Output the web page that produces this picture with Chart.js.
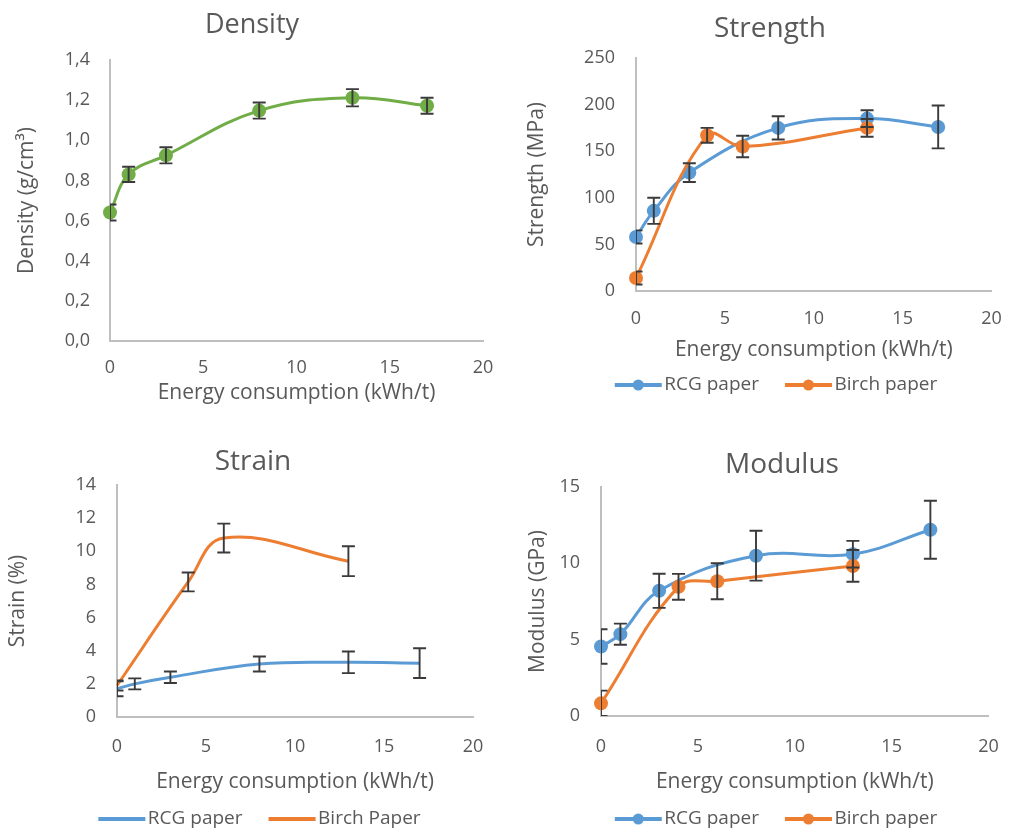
<!DOCTYPE html>
<html>
<head>
<meta charset="utf-8">
<title>Paper properties vs energy consumption</title>
<script src="https://cdn.jsdelivr.net/npm/chart.js@4.4.1/dist/chart.umd.min.js"></script>
<style>
  html, body { margin: 0; padding: 0; background: #fff; }
  canvas { position: absolute; }
</style>
</head>
<body>
<canvas id="density" width="510" height="420" style="left:0;top:0"></canvas>
<canvas id="strength" width="509" height="420" style="left:510px;top:0"></canvas>
<canvas id="strain" width="510" height="413" style="left:0;top:420px"></canvas>
<canvas id="modulus" width="509" height="413" style="left:510px;top:420px"></canvas>
<script>
// energy consumption (kWh/t) of each measured sample
const energyRcg = [0, 1, 3, 8, 13, 17];
const energyBirch = [0, 4, 6, 13];
const energyTicks = [0, 20, 5]; // min, max, step

// density (g/cm3), RCG paper only
const densityRcg = [0.64, 0.83, 0.925, 1.148, 1.212, 1.172];
const densityRcgErr = [0.04, 0.038, 0.04, 0.04, 0.043, 0.04];
const densityTicks = [0, 1.4, 0.2];

// strength (MPa)
const strengthRcg = [58, 86, 127, 175, 185, 176];
const strengthRcgErr = [7, 14, 10, 12.5, 9, 23];
const strengthBirch = [14, 167, 155, 175];
const strengthBirchErr = [7, 8, 11.5, 9.5];
const strengthTicks = [0, 250, 50];

// strain (%)
const strainRcg = [1.7, 2.0, 2.4, 3.2, 3.3, 3.25];
const strainRcgErr = [0.45, 0.33, 0.35, 0.45, 0.65, 0.9];
const strainBirch = [1.9, 8.15, 10.8, 9.4];
const strainBirchErr = [0.3, 0.57, 0.87, 0.9];
const strainTicks = [0, 14, 2];

// modulus (GPa)
const modulusRcg = [4.55, 5.36, 8.2, 10.5, 10.6, 12.2];
const modulusRcgErr = [1.13, 0.69, 1.12, 1.63, 0.87, 1.9];
const modulusBirch = [0.83, 8.46, 8.83, 9.83];
const modulusBirchErr = [0.83, 0.85, 1.18, 1.04];
const modulusTicks = [0, 15, 5];

const BLUE = '#5b9bd5', ORANGE = '#ed7d31', GREEN = '#70ad47';
const TEXT = '#595959', AXIS = '#bfbfbf', BAR = '#3a3a3a';

Chart.defaults.font.family = '"Open Sans", sans-serif';
Chart.defaults.color = TEXT;

// error bars, clipped to the plot area like Excel does
const errorBars = {
	id: 'errorBars',
	afterDatasetsDraw(chart) {
		const { ctx, chartArea: a, scales: { x, y } } = chart;
		ctx.save();
		ctx.beginPath();
		ctx.rect(a.left, a.top, a.right - a.left, a.bottom - a.top);
		ctx.clip();
		ctx.strokeStyle = BAR;
		ctx.lineWidth = 1.9;
		chart.data.datasets.forEach((ds) => {
			if (!ds.errors) return;
			ds.data.forEach((p, i) => {
				const px = x.getPixelForValue(p.x);
				const hi = y.getPixelForValue(p.y + ds.errors[i]);
				const lo = y.getPixelForValue(p.y - ds.errors[i]);
				ctx.beginPath();
				ctx.moveTo(px, hi); ctx.lineTo(px, lo);
				ctx.moveTo(px - 6.5, hi); ctx.lineTo(px + 6.5, hi);
				ctx.moveTo(px - 6.5, lo); ctx.lineTo(px + 6.5, lo);
				ctx.stroke();
			});
		});
		ctx.restore();
	},
};

// legend symbol: a short line, with a dot when the series has markers
const legendSymbols = {
	id: 'legendSymbols',
	afterDraw(chart) {
		const legend = chart.legend;
		if (!legend || !legend.options.display) return;
		const ctx = chart.ctx;
		legend.legendItems.forEach((item, i) => {
			const ds = chart.data.datasets[item.datasetIndex];
			const box = legend.legendHitBoxes[i];
			const cy = box.top + box.height / 2;
			ctx.save();
			ctx.strokeStyle = ds.borderColor;
			ctx.lineWidth = 4;
			ctx.beginPath();
			ctx.moveTo(box.left, cy);
			ctx.lineTo(box.left + 47, cy);
			ctx.stroke();
			if (ds.pointRadius) {
				ctx.fillStyle = ds.borderColor;
				ctx.beginPath();
				ctx.arc(box.left + 23.5, cy, 5.5, 0, Math.PI * 2);
				ctx.fill();
			}
			ctx.restore();
		});
	},
};

// puts title, legend and x axis title where the original has them
const placement = {
	id: 'placement',
	afterLayout(chart, args, opts) {
		const t = chart.titleBlock;
		if (t && opts.titleX != null) {
			const dx = opts.titleX - (t.left + t.right) / 2;
			t.left += dx; t.right += dx;
		}
		const l = chart.legend;
		if (l && l.options.display && opts.legendX != null) {
			const dx = opts.legendX - (l.left + l.right) / 2;
			const size = l.options.labels.font.size;
			const dy = opts.legendY - (l.top + l.options.labels.padding + size / 2);
			l.left += dx; l.right += dx; l.top += dy; l.bottom += dy;
		}
		const xs = chart.scales.x;
		xs.bottom = opts.xTitleY + xs.options.title.font.size * 0.6;
	},
};

function points(xs, ys) {
	return xs.map((x, i) => ({ x: x, y: ys[i] }));
}

function series(label, xs, ys, errs, color, marker, order) {
	return {
		label: label,
		data: points(xs, ys),
		errors: errs,
		borderColor: color,
		backgroundColor: color,
		borderWidth: 3,
		tension: 0.4,
		pointRadius: marker ? 7 : 0,
		pointHoverRadius: marker ? 7 : 0,
		pointBorderWidth: 0,
		clip: false,
		order: order,
	};
}

function panel(id, box, title, yTitle, yTicks, yFormat, datasets) {
	const canvas = document.getElementById(id);
	const hasLegend = box.legendY != null;
	return new Chart(canvas, {
		type: 'line',
		data: { datasets: datasets },
		options: {
			responsive: false,
			animation: false,
			devicePixelRatio: 1,
			events: [],
			layout: { padding: { left: 0, top: 0, bottom: 0, right: canvas.width - box.right } },
			plugins: {
				title: {
					display: true,
					text: title,
					color: TEXT,
					font: { size: box.titleSize, weight: 'normal' },
					padding: {
						top: box.titleY - box.titleSize * 0.6,
						bottom: box.top - box.titleY - box.titleSize * 0.6,
					},
				},
				legend: {
					display: hasLegend,
					position: 'bottom',
					labels: {
						font: { size: 19 },
						color: TEXT,
						boxWidth: 40,
						boxHeight: 3,
						padding: 26,
						sort: (a, b) => a.datasetIndex - b.datasetIndex,
						generateLabels(chart) {
							return Chart.defaults.plugins.legend.labels.generateLabels(chart).map((l) => {
								l.fillStyle = 'rgba(0,0,0,0)';
								l.lineWidth = 0;
								return l;
							});
						},
					},
				},
				tooltip: { enabled: false },
				placement: { titleX: box.titleX, legendX: box.legendX, legendY: box.legendY, xTitleY: box.xTitleY },
			},
			scales: {
				x: {
					type: 'linear',
					min: energyTicks[0],
					max: energyTicks[1],
					grid: { display: false, drawTicks: false },
					border: { display: true, color: AXIS, width: 2 },
					ticks: { stepSize: energyTicks[2], font: { size: 18 }, color: TEXT, padding: box.xTickY - box.bottom - 10.8 },
					title: { display: true, text: 'Energy consumption (kWh/t)', font: { size: 21 }, color: TEXT, padding: 0 },
					afterFit(s) { s.height = s.chart.height - s.chart.legend.height - box.bottom; },
				},
				y: {
					min: yTicks[0],
					max: yTicks[1],
					grid: { display: false, drawTicks: false },
					border: { display: true, color: AXIS, width: 2 },
					ticks: { stepSize: yTicks[2], font: { size: 18 }, color: TEXT, padding: box.left - box.yTickRight, callback: yFormat },
					title: { display: true, text: yTitle, font: { size: 21 }, color: TEXT, padding: { top: box.yTitleX - 12.6, bottom: 0 } },
					afterFit(s) { s.width = box.left; },
				},
			},
		},
		plugins: [errorBars, legendSymbols, placement],
	});
}

const plain = (v) => String(v);
const comma = (v) => v.toFixed(1).replace('.', ',');

panel('density',
	{ left: 110, top: 60, right: 483, bottom: 341, titleSize: 27, titleX: 252, titleY: 25.5, yTitleX: 27, yTickRight: 90, xTickY: 368, xTitleY: 393 },
	'Density', 'Density (g/cm³)', densityTicks, comma,
	[series('RCG paper', energyRcg, densityRcg, densityRcgErr, GREEN, true, 0)]);

panel('strength',
	{ left: 126, top: 58, right: 493, bottom: 291, titleSize: 28, titleX: 260, titleY: 29, yTitleX: 27, yTickRight: 105, xTickY: 319, xTitleY: 350, legendX: 266, legendY: 385 },
	'Strength', 'Strength (MPa)', strengthTicks, plain,
	[series('RCG paper', energyRcg, strengthRcg, strengthRcgErr, BLUE, true, 1),
	 series('Birch paper', energyBirch, strengthBirch, strengthBirchErr, ORANGE, true, 0)]);

panel('strain',
	{ left: 117, top: 65, right: 473, bottom: 297, titleSize: 28, titleX: 253, titleY: 42, yTitleX: 18, yTickRight: 96, xTickY: 327, xTitleY: 362, legendX: 259.5, legendY: 399 },
	'Strain', 'Strain (%)', strainTicks, plain,
	[series('RCG paper', energyRcg, strainRcg, strainRcgErr, BLUE, false, 1),
	 series('Birch Paper', energyBirch, strainBirch, strainBirchErr, ORANGE, false, 0)]);

panel('modulus',
	{ left: 91, top: 67, right: 493, bottom: 296, titleSize: 28, titleX: 272, titleY: 45, yTitleX: 28, yTickRight: 70, xTickY: 327, xTitleY: 362, legendX: 266, legendY: 399 },
	'Modulus', 'Modulus (GPa)', modulusTicks, plain,
	[series('RCG paper', energyRcg, modulusRcg, modulusRcgErr, BLUE, true, 1),
	 series('Birch paper', energyBirch, modulusBirch, modulusBirchErr, ORANGE, true, 0)]);
</script>
</body>
</html>
